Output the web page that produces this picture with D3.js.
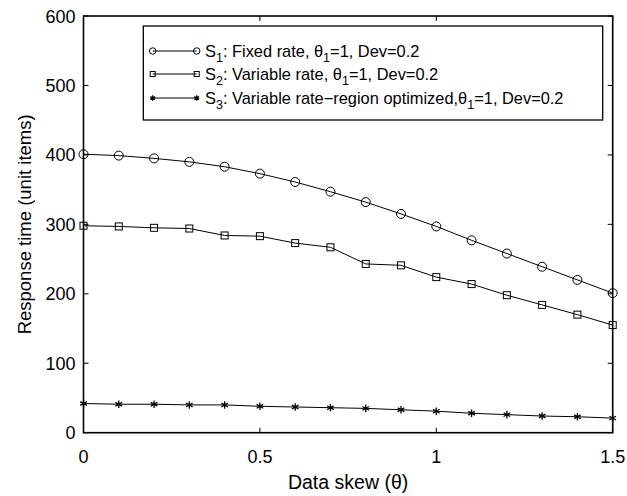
<!DOCTYPE html>
<html>
<head>
<meta charset="utf-8">
<script src="https://cdn.jsdelivr.net/npm/d3@7"></script>
<style>
  body { margin: 0; background: #fff; }
  text { font-family: "Liberation Sans", Arial, sans-serif; fill: #000; }
</style>
</head>
<body>
<div id="chart"></div>
<script>
// data
const skew = [0, 0.1, 0.2, 0.3, 0.4, 0.5, 0.6, 0.7, 0.8, 0.9, 1.0, 1.1, 1.2, 1.3, 1.4, 1.5];
const s1 = [401, 399, 395, 390, 383, 373, 361, 347, 332, 315, 297, 277, 258, 239, 220, 201];
const s2 = [298, 297, 295, 294, 284, 283, 273, 267, 243, 241, 224, 214, 198, 184, 170, 155];
const s3 = [42, 41, 41, 40, 40, 38, 37, 36, 35, 33, 31, 28, 26, 24, 23, 21];
const xTicks = [0, 0.5, 1, 1.5];
const yTicks = [0, 100, 200, 300, 400, 500, 600];
const legendRows = [
  { sym: "circle", sub: "1", rest: ": Fixed rate, ", tail: "=1, Dev=0.2" },
  { sym: "square", sub: "2", rest: ": Variable rate, ", tail: "=1, Dev=0.2" },
  { sym: "star", sub: "3", rest: ": Variable rate\u2212region optimized,", tail: "=1, Dev=0.2" }
];

const width = 627, height = 496;
const margin = { left: 83.5, right: 14.3, top: 16, bottom: 63.3 };

const svg = d3.select("#chart").append("svg")
    .attr("width", width)
    .attr("height", height);

const x = d3.scaleLinear().domain([0, 1.5]).range([margin.left, width - margin.right]);
const y = d3.scaleLinear().domain([0, 600]).range([height - margin.bottom, margin.top]);

// marker drawing, k scales the marker size
function drawMarker(g, type, cx, cy, k = 1) {
  if (type === "circle") {
    g.append("circle").attr("cx", cx).attr("cy", cy).attr("r", 4.5 * k)
      .attr("fill", "none").attr("stroke", "#000").attr("stroke-width", 1);
  } else if (type === "square") {
    const s = 7 * k;
    g.append("rect").attr("x", cx - s / 2).attr("y", cy - s / 2).attr("width", s).attr("height", s)
      .attr("fill", "none").attr("stroke", "#000").attr("stroke-width", 1);
  } else {
    g.append("path").attr("transform", `translate(${cx},${cy})`)
      .attr("d", d3.symbol().type(d3.symbolAsterisk).size(40 * k * k)())
      .attr("fill", "none").attr("stroke", "#000").attr("stroke-width", 1.3);
  }
}

const line = d3.line().x((d, i) => x(skew[i])).y(d => y(d));
const series = [[s1, "circle"], [s2, "square"], [s3, "star"]];

series.forEach(([vals, type]) => {
  svg.append("path").datum(vals)
    .attr("d", line)
    .attr("fill", "none").attr("stroke", "#000").attr("stroke-width", 1);
  const g = svg.append("g");
  vals.forEach((v, i) => drawMarker(g, type, x(skew[i]), y(v)));
});

// axes box
svg.append("rect")
  .attr("x", x(0)).attr("y", y(600))
  .attr("width", x(1.5) - x(0)).attr("height", y(0) - y(600))
  .attr("fill", "none").attr("stroke", "#000").attr("stroke-width", 1.6);

// inward ticks on all four sides
const tickLen = 5;
const tk = svg.append("g").attr("stroke", "#000").attr("stroke-width", 1);
xTicks.forEach(t => {
  tk.append("line").attr("x1", x(t)).attr("x2", x(t)).attr("y1", y(0)).attr("y2", y(0) - tickLen);
  tk.append("line").attr("x1", x(t)).attr("x2", x(t)).attr("y1", y(600)).attr("y2", y(600) + tickLen);
});
yTicks.forEach(t => {
  tk.append("line").attr("x1", x(0)).attr("x2", x(0) + tickLen).attr("y1", y(t)).attr("y2", y(t));
  tk.append("line").attr("x1", x(1.5)).attr("x2", x(1.5) - tickLen).attr("y1", y(t)).attr("y2", y(t));
});

// tick labels
svg.append("g").selectAll("text").data(xTicks).join("text")
  .attr("x", d => x(d)).attr("y", y(0) + 30)
  .attr("text-anchor", "middle").attr("font-size", 18)
  .text(d => d);
svg.append("g").selectAll("text").data(yTicks).join("text")
  .attr("x", x(0) - 8).attr("y", d => y(d) + 6.5)
  .attr("text-anchor", "end").attr("font-size", 18)
  .text(d => d);

// axis titles
svg.append("text")
  .attr("x", (x(0) + x(1.5)) / 2).attr("y", 489)
  .attr("text-anchor", "middle").attr("font-size", 19.5)
  .text("Data skew (\u03b8)");
svg.append("text")
  .attr("transform", `translate(31,${(y(0) + y(600)) / 2}) rotate(-90)`)
  .attr("text-anchor", "middle").attr("font-size", 18.5)
  .text("Response time (unit items)");

// legend
const lg = svg.append("g");
lg.append("rect").attr("x", 143.3).attr("y", 26).attr("width", 459.4).attr("height", 94)
  .attr("fill", "#fff").attr("stroke", "#000").attr("stroke-width", 1.3);
const rowY = [51, 74, 98];
legendRows.forEach((r, i) => {
  const cy = rowY[i];
  lg.append("line").attr("x1", 152.7).attr("x2", 196.7).attr("y1", cy).attr("y2", cy)
    .attr("stroke", "#000").attr("stroke-width", 1);
  drawMarker(lg, r.sym, 152.7, cy, 0.72);
  drawMarker(lg, r.sym, 196.7, cy, 0.72);
  const t = lg.append("text").attr("x", 205).attr("y", cy + 5.5).attr("font-size", 16.4);
  t.append("tspan").text("S");
  t.append("tspan").attr("dy", 5).attr("font-size", 12.5).text(r.sub);
  t.append("tspan").attr("dy", -5).text(r.rest);
  t.append("tspan").text("\u03b8");
  t.append("tspan").attr("dy", 5).attr("font-size", 12.5).text("1");
  t.append("tspan").attr("dy", -5).text(r.tail);
});
</script>
</body>
</html>
